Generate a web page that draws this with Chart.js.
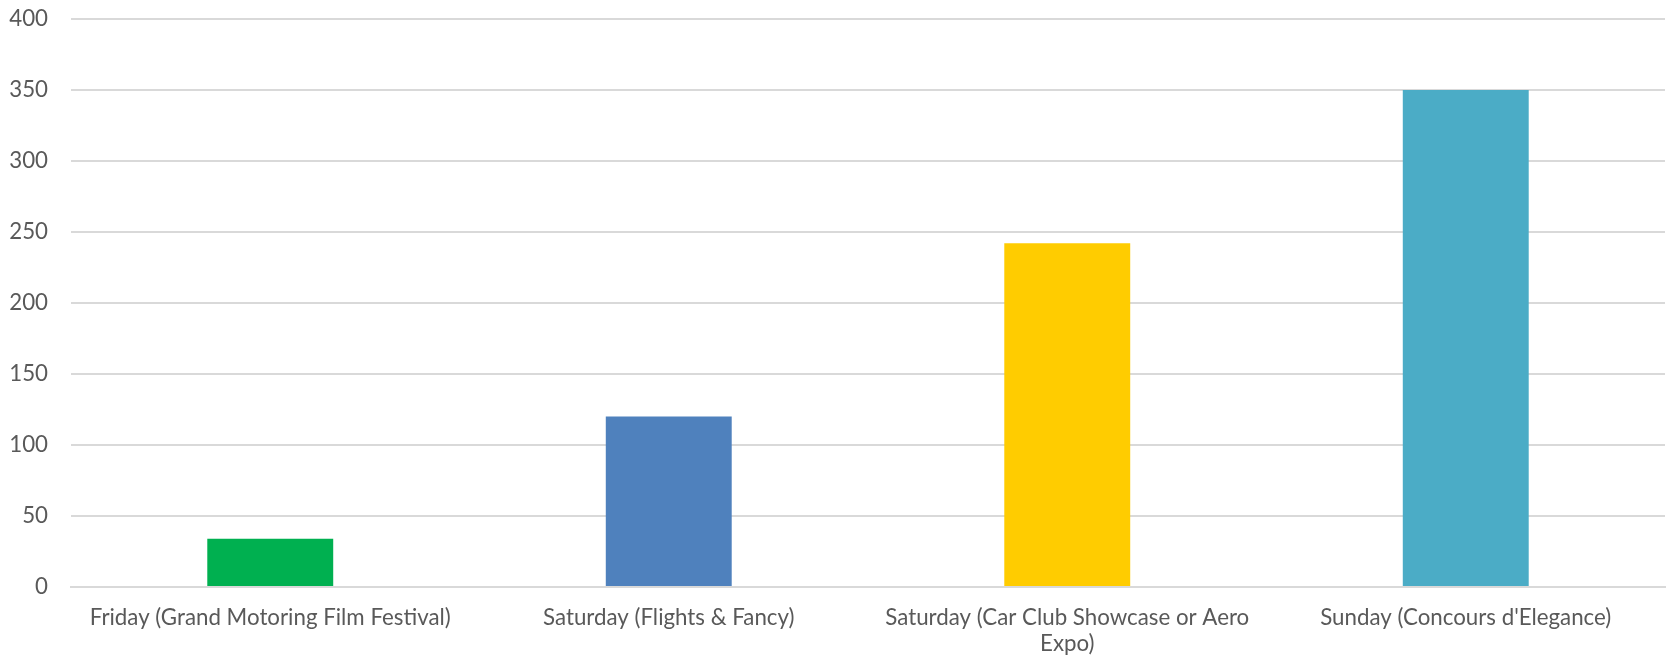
<!DOCTYPE html>
<html>
<head>
<meta charset="utf-8">
<script src="https://cdn.jsdelivr.net/npm/chart.js@4/dist/chart.umd.min.js"></script>
<style>
  html, body { margin: 0; padding: 0; background: #fff; }
  #wrap { width: 1666px; height: 662px; }
</style>
</head>
<body>
<div id="wrap"><canvas id="attendanceChart"></canvas></div>
<script>
// Event days (multi-line labels are split where they wrap)
const categories = [
  'Friday (Grand Motoring Film Festival)',
  'Saturday (Flights & Fancy)',
  ['Saturday (Car Club Showcase or Aero', 'Expo)'],
  "Sunday (Concours d'Elegance)"
];
const attendance = [34, 120, 242, 350];
const barColors = ['#00B050', '#4F81BD', '#FFCC00', '#4BACC6'];
const yTicks = [0, 50, 100, 150, 200, 250, 300, 350, 400];

const labelFont = { family: 'Lato, "Open Sans", sans-serif', size: 22.3, lineHeight: 1.15 };

new Chart(document.getElementById('attendanceChart'), {
  type: 'bar',
  data: {
    labels: categories,
    datasets: [{
      data: attendance,
      backgroundColor: barColors,
      borderWidth: 0,
      barPercentage: 0.316,
      categoryPercentage: 1
    }]
  },
  options: {
    responsive: true,
    maintainAspectRatio: false,
    animation: false,
    layout: { padding: { top: 19, right: 1, bottom: 0, left: 0 } },
    plugins: {
      legend: { display: false },
      tooltip: { enabled: false }
    },
    scales: {
      x: {
        afterFit: (scale) => { scale.height = 75; },
        grid: { display: false, drawTicks: false },
        border: { display: true, color: '#d9d9d9', width: 2 },
        ticks: {
          color: '#595959',
          font: labelFont,
          padding: 18,
          maxRotation: 0,
          autoSkip: false
        }
      },
      y: {
        min: 0,
        max: 400,
        afterBuildTicks: (scale) => { scale.ticks = yTicks.map(v => ({ value: v })); },
        afterFit: (scale) => {
          // fixed gutter for the value labels; no extra room above the top tick
          scale.width = 71;
          scale.paddingTop = 0;
        },
        grid: { color: '#d9d9d9', lineWidth: 2, drawTicks: false },
        border: { display: false },
        ticks: {
          color: '#595959',
          font: labelFont,
          padding: 23
        }
      }
    }
  }
});
</script>
</body>
</html>
